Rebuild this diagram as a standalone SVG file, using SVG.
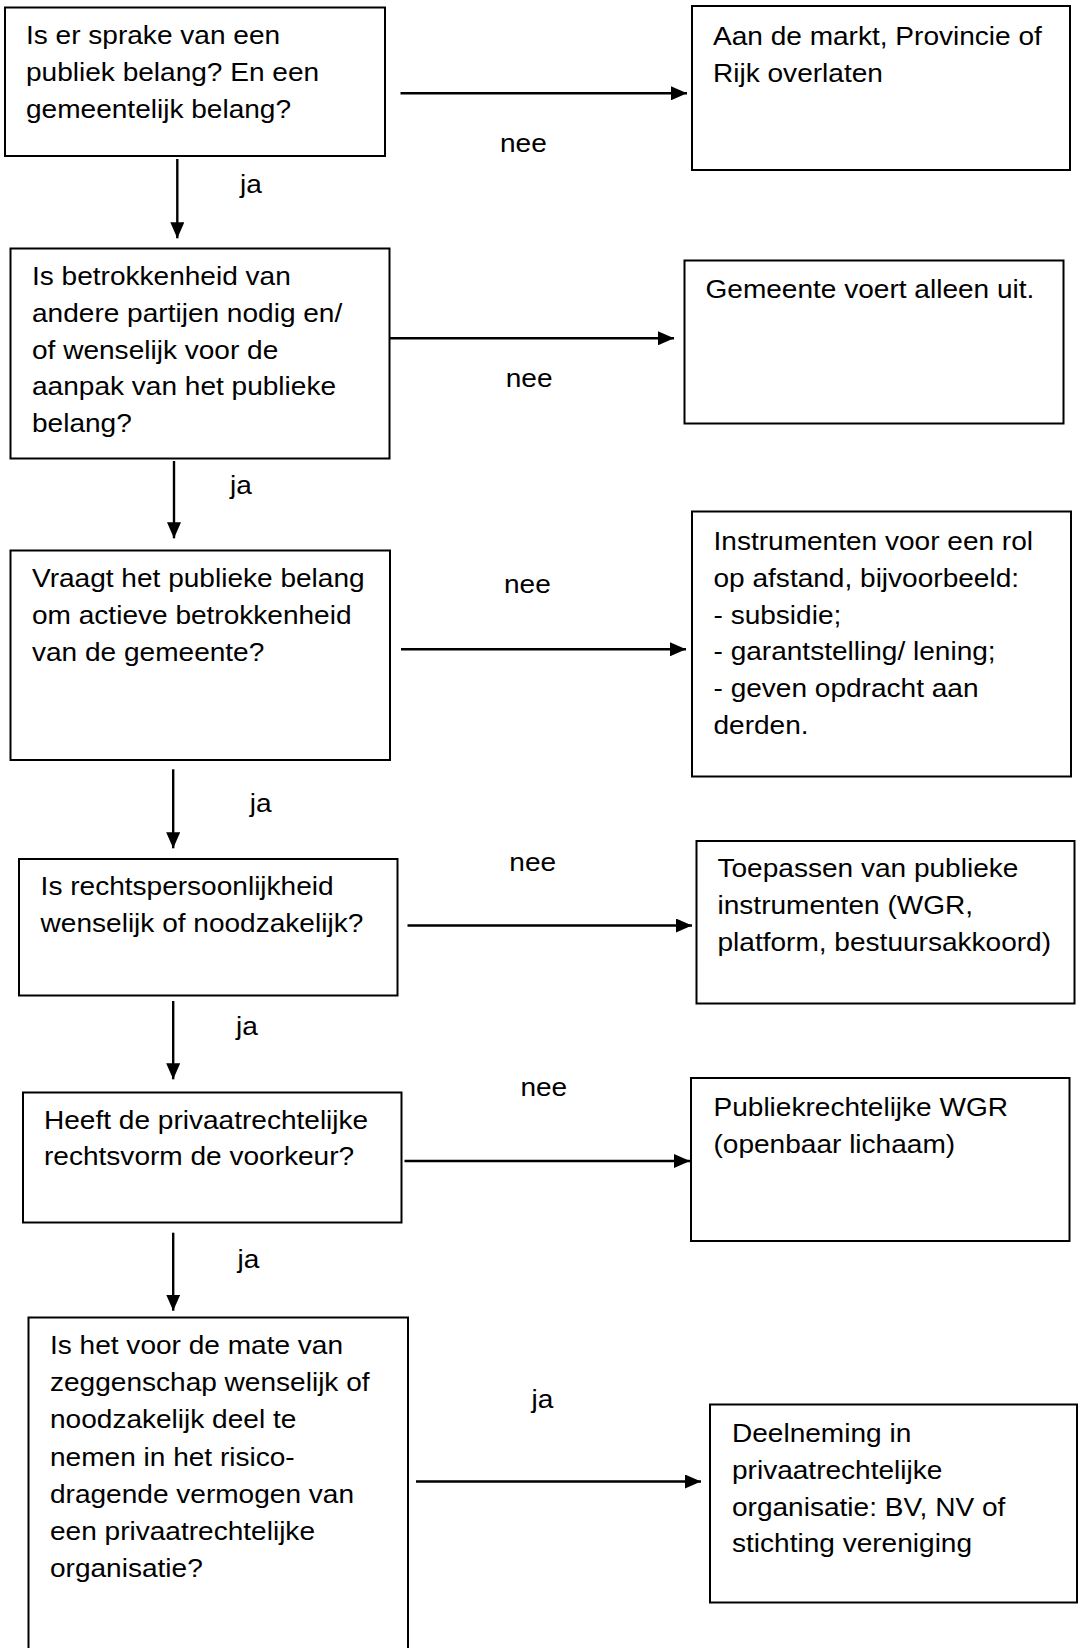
<svg xmlns="http://www.w3.org/2000/svg" width="1079" height="1648" viewBox="0 0 1079 1648">
<style>
.box{fill:#fff;stroke:#000;stroke-width:2}
.t{font-family:"Liberation Sans",Arial,sans-serif;font-size:25.5px;fill:#000}
.edge{stroke:#000;stroke-width:2.4;fill:none;marker-end:url(#ah)}
</style>
<defs>
<marker id="ah" markerUnits="userSpaceOnUse" markerWidth="16" markerHeight="14" refX="16" refY="7" orient="auto">
<path d="M0,0 L16,7 L0,14 z" fill="#000"/>
</marker>
</defs>
<rect width="1079" height="1648" fill="#fff"/>
<g id="connectors">
<line class="edge" x1="400.5" y1="93.3" x2="687" y2="93.3"/>
<text class="t" transform="translate(500,152) scale(1.1 1)">nee</text>
<line class="edge" x1="177.3" y1="159" x2="177.3" y2="238.3"/>
<text class="t" transform="translate(240,193) scale(1.1 1)">ja</text>
<line class="edge" x1="389.8" y1="338.3" x2="674" y2="338.3"/>
<text class="t" transform="translate(505.7,387) scale(1.1 1)">nee</text>
<line class="edge" x1="174" y1="461" x2="174" y2="538.3"/>
<text class="t" transform="translate(230,494) scale(1.1 1)">ja</text>
<line class="edge" x1="401" y1="649.3" x2="686" y2="649.3"/>
<text class="t" transform="translate(504,593) scale(1.1 1)">nee</text>
<line class="edge" x1="173.2" y1="769.3" x2="173.2" y2="848.3"/>
<text class="t" transform="translate(249.7,812) scale(1.1 1)">ja</text>
<line class="edge" x1="407.5" y1="925.5" x2="692" y2="925.5"/>
<text class="t" transform="translate(509.3,871) scale(1.1 1)">nee</text>
<line class="edge" x1="173.2" y1="1001" x2="173.2" y2="1079.3"/>
<text class="t" transform="translate(236,1035) scale(1.1 1)">ja</text>
<line class="edge" x1="404.5" y1="1161" x2="690" y2="1161"/>
<text class="t" transform="translate(520.4,1096) scale(1.1 1)">nee</text>
<line class="edge" x1="173.2" y1="1232.7" x2="173.2" y2="1310.7"/>
<text class="t" transform="translate(237.6,1268) scale(1.1 1)">ja</text>
<line class="edge" x1="416" y1="1481.5" x2="701" y2="1481.5"/>
<text class="t" transform="translate(531.6,1408) scale(1.1 1)">ja</text>
</g>
<g id="n1">
<rect class="box" x="5" y="7.5" width="380" height="148.5"/>
<text class="t" transform="translate(26,44) scale(1.1 1)"><tspan x="0" y="0">Is er sprake van een</tspan><tspan x="0" dy="36.8">publiek belang? En een</tspan><tspan x="0" dy="36.8">gemeentelijk belang?</tspan></text>
</g>
<g id="n2">
<rect class="box" x="692" y="6" width="378" height="164"/>
<text class="t" transform="translate(713,45) scale(1.1 1)"><tspan x="0" y="0">Aan de markt, Provincie of</tspan><tspan x="0" dy="36.8">Rijk overlaten</tspan></text>
</g>
<g id="n3">
<rect class="box" x="10.5" y="248.5" width="379" height="210"/>
<text class="t" transform="translate(32,285) scale(1.1 1)"><tspan x="0" y="0">Is betrokkenheid van</tspan><tspan x="0" dy="36.8">andere partijen nodig en/</tspan><tspan x="0" dy="36.8">of wenselijk voor de</tspan><tspan x="0" dy="36.8">aanpak van het publieke</tspan><tspan x="0" dy="36.8">belang?</tspan></text>
</g>
<g id="n4">
<rect class="box" x="684.5" y="260.5" width="379" height="163"/>
<text class="t" transform="translate(705.5,298) scale(1.1 1)">Gemeente voert alleen uit.</text>
</g>
<g id="n5">
<rect class="box" x="10.5" y="550.5" width="379.5" height="209.5"/>
<text class="t" transform="translate(32,587) scale(1.1 1)"><tspan x="0" y="0">Vraagt het publieke belang</tspan><tspan x="0" dy="36.8">om actieve betrokkenheid</tspan><tspan x="0" dy="36.8">van de gemeente?</tspan></text>
</g>
<g id="n6">
<rect class="box" x="692" y="511.5" width="379" height="265"/>
<text class="t" transform="translate(713.5,550) scale(1.1 1)"><tspan x="0" y="0">Instrumenten voor een rol</tspan><tspan x="0" dy="36.8">op afstand, bijvoorbeeld:</tspan><tspan x="0" dy="36.8">- subsidie;</tspan><tspan x="0" dy="36.8">- garantstelling/ lening;</tspan><tspan x="0" dy="36.8">- geven opdracht aan</tspan><tspan x="0" dy="36.8">derden.</tspan></text>
</g>
<g id="n7">
<rect class="box" x="19" y="859" width="378.5" height="136.5"/>
<text class="t" transform="translate(40.6,895) scale(1.1 1)"><tspan x="0" y="0">Is rechtspersoonlijkheid</tspan><tspan x="0" dy="36.8">wenselijk of noodzakelijk?</tspan></text>
</g>
<g id="n8">
<rect class="box" x="696.5" y="841" width="378" height="162.5"/>
<text class="t" transform="translate(717.5,877) scale(1.1 1)"><tspan x="0" y="0">Toepassen van publieke</tspan><tspan x="0" dy="36.8">instrumenten (WGR,</tspan><tspan x="0" dy="36.8">platform, bestuursakkoord)</tspan></text>
</g>
<g id="n9">
<rect class="box" x="23" y="1092.5" width="378.5" height="130"/>
<text class="t" transform="translate(44,1128.5) scale(1.1 1)"><tspan x="0" y="0">Heeft de privaatrechtelijke</tspan><tspan x="0" dy="36.8">rechtsvorm de voorkeur?</tspan></text>
</g>
<g id="n10">
<rect class="box" x="691" y="1078" width="378.5" height="163"/>
<text class="t" transform="translate(713.5,1116) scale(1.1 1)"><tspan x="0" y="0">Publiekrechtelijke WGR</tspan><tspan x="0" dy="36.8">(openbaar lichaam)</tspan></text>
</g>
<g id="n11">
<rect class="box" x="28.5" y="1317.5" width="379.5" height="350"/>
<text class="t" transform="translate(50,1354) scale(1.1 1)"><tspan x="0" y="0">Is het voor de mate van</tspan><tspan x="0" dy="37.2">zeggenschap wenselijk of</tspan><tspan x="0" dy="37.2">noodzakelijk deel te</tspan><tspan x="0" dy="37.2">nemen in het risico-</tspan><tspan x="0" dy="37.2">dragende vermogen van</tspan><tspan x="0" dy="37.2">een privaatrechtelijke</tspan><tspan x="0" dy="37.2">organisatie?</tspan></text>
</g>
<g id="n12">
<rect class="box" x="710" y="1404.5" width="367" height="198"/>
<text class="t" transform="translate(732,1442) scale(1.1 1)"><tspan x="0" y="0">Deelneming in</tspan><tspan x="0" dy="36.8">privaatrechtelijke</tspan><tspan x="0" dy="36.8">organisatie: BV, NV of</tspan><tspan x="0" dy="36.8">stichting vereniging</tspan></text>
</g>
</svg>
